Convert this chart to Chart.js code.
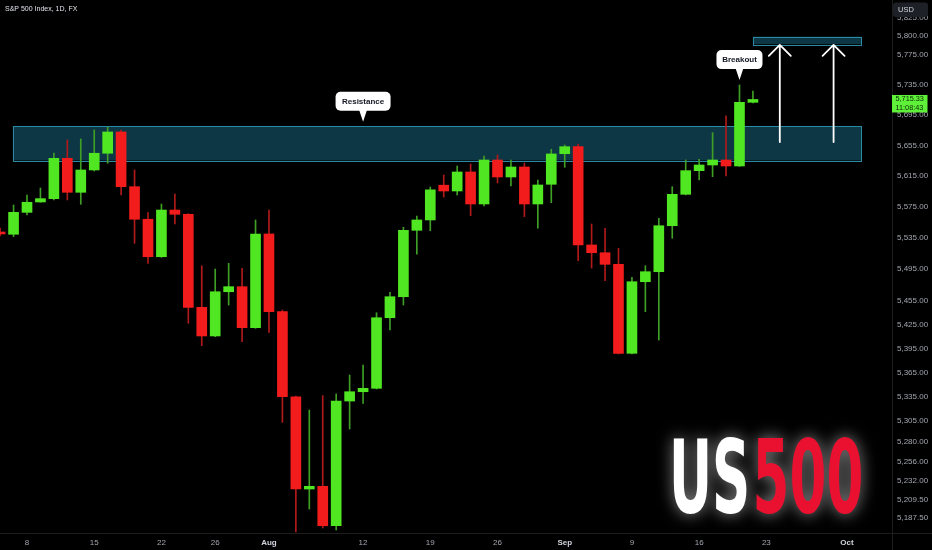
<!DOCTYPE html>
<html>
<head>
<meta charset="utf-8">
<script src="https://cdn.jsdelivr.net/npm/chart.js@4.4.1/dist/chart.umd.min.js"></script>
<style>
  html, body { margin: 0; padding: 0; background: #000; }
  #wrap { width: 932px; height: 550px; }
</style>
</head>
<body>
<div id="wrap"><canvas id="chart" width="932" height="550"></canvas></div>
<script>
// S&P 500 Index, 1D, FX - daily candles (every weekday is a bar on this feed)
const days = [
  '2024-07-04','2024-07-05',
  '2024-07-08','2024-07-09','2024-07-10','2024-07-11','2024-07-12',
  '2024-07-15','2024-07-16','2024-07-17','2024-07-18','2024-07-19',
  '2024-07-22','2024-07-23','2024-07-24','2024-07-25','2024-07-26',
  '2024-07-29','2024-07-30','2024-07-31','2024-08-01','2024-08-02',
  '2024-08-05','2024-08-06','2024-08-07','2024-08-08','2024-08-09',
  '2024-08-12','2024-08-13','2024-08-14','2024-08-15','2024-08-16',
  '2024-08-19','2024-08-20','2024-08-21','2024-08-22','2024-08-23',
  '2024-08-26','2024-08-27','2024-08-28','2024-08-29','2024-08-30',
  '2024-09-02','2024-09-03','2024-09-04','2024-09-05','2024-09-06',
  '2024-09-09','2024-09-10','2024-09-11','2024-09-12','2024-09-13',
  '2024-09-16','2024-09-17','2024-09-18','2024-09-19','2024-09-20'
];
const opens = [
  5542.6, 5539.7,
  5567.9, 5581.3, 5585.6, 5638.0, 5593.8,
  5622.8, 5644.6, 5672.5, 5601.1, 5559.0,
  5511.0, 5570.9, 5565.4, 5446.8, 5410.8,
  5466.5, 5472.9, 5421.2, 5540.1, 5441.3,
  5335.2, 5222.4, 5225.7, 5178.2, 5329.9,
  5341.4, 5345.6, 5433.7, 5460.2, 5544.8,
  5558.1, 5603.0, 5595.5, 5620.2, 5578.7,
  5635.8, 5613.7, 5626.7, 5578.7, 5604.2,
  5644.1, 5653.2, 5526.0, 5516.1, 5501.3,
  5389.1, 5479.2, 5491.9, 5550.7, 5591.2,
  5621.9, 5629.3, 5635.8, 5628.0, 5711.6
];
const highs = [
  5547.7, 5577.4,
  5590.3, 5599.4, 5644.9, 5662.0, 5663.3,
  5675.1, 5678.7, 5675.1, 5622.8, 5567.5,
  5578.7, 5591.6, 5566.2, 5499.5, 5495.3,
  5502.6, 5496.2, 5558.1, 5570.9, 5443.4,
  5336.0, 5318.8, 5336.5, 5338.6, 5362.1,
  5374.5, 5440.0, 5465.8, 5548.7, 5563.2,
  5600.7, 5616.3, 5628.0, 5630.6, 5641.0,
  5642.4, 5635.8, 5631.9, 5609.8, 5649.8,
  5655.4, 5656.7, 5552.9, 5547.4, 5521.8,
  5484.8, 5499.5, 5560.3, 5601.1, 5635.8,
  5636.7, 5671.6, 5693.6, 5734.6, 5726.3
];
const lows = [
  5537.5, 5536.6,
  5564.5, 5580.9, 5583.9, 5583.9, 5578.3,
  5621.5, 5631.5, 5590.3, 5528.1, 5502.6,
  5510.2, 5552.9, 5426.7, 5398.6, 5409.9,
  5449.7, 5403.6, 5420.4, 5415.1, 5303.7,
  5170.7, 5198.3, 5175.5, 5173.1, 5295.5,
  5327.1, 5344.8, 5418.3, 5449.7, 5514.1,
  5544.3, 5587.7, 5590.3, 5563.6, 5576.1,
  5605.9, 5602.0, 5562.3, 5547.4, 5580.4,
  5626.3, 5505.9, 5496.5, 5480.5, 5388.3,
  5388.3, 5441.3, 5405.7, 5534.6, 5590.5,
  5609.8, 5614.1, 5615.0, 5627.3, 5710.8
];
const closes = [
  5540.1, 5567.9,
  5580.9, 5585.6, 5638.0, 5593.8, 5622.8,
  5644.6, 5672.5, 5601.1, 5559.0, 5511.0,
  5570.9, 5565.4, 5446.8, 5410.8, 5466.5,
  5472.9, 5421.2, 5540.1, 5441.3, 5335.2,
  5222.4, 5225.7, 5178.2, 5329.9, 5341.4,
  5345.6, 5433.7, 5460.2, 5544.8, 5558.1,
  5597.0, 5595.5, 5620.2, 5578.7, 5635.8,
  5613.7, 5626.7, 5578.7, 5603.3, 5643.7,
  5653.2, 5526.0, 5516.1, 5501.3, 5389.1,
  5479.2, 5491.9, 5550.7, 5591.2, 5621.9,
  5629.3, 5635.8, 5628.0, 5711.6, 5715.33
];

const priceTicks = [5825, 5800, 5775, 5735, 5695, 5655, 5615, 5575, 5535, 5495,
  5455, 5425, 5395, 5365, 5335, 5305, 5280, 5256, 5232, 5209.5, 5187.5];
const dateTicks = ['2024-07-08','2024-07-15','2024-07-22','2024-07-26','2024-08-01',
  '2024-08-12','2024-08-19','2024-08-26','2024-09-02','2024-09-09','2024-09-16',
  '2024-09-23','2024-10-01'];
const dateTickLabels = ['8','15','22','26','Aug','12','19','26','Sep','9','16','23','Oct'];
const monthLabels = ['Aug', 'Sep', 'Oct'];

const lastPrice = 5715.33;
const countdown = '11:08:43';
const resistanceZone = [5635.2, 5680.4];
const targetZone = [5789.0, 5799.1];
const arrowDays = ['2024-09-24', '2024-09-30'];
const arrowFrom = 5659.2;
const arrowTo = 5788.0;

// weekday index, 2024-07-08 = 0
function dayIndex(s) {
  const [y, m, d] = s.split('-').map(Number);
  const n = Math.round((Date.UTC(y, m - 1, d) - Date.UTC(2024, 6, 8)) / 86400000);
  const w = Math.floor(n / 7);
  return w * 5 + Math.min(n - w * 7, 5);
}

const UP = '#50e622', DOWN = '#f21c1c';
const UP_WICK = '#3f9f25', DOWN_WICK = '#b01a1a';
const xs = days.map(dayIndex);
const isUp = closes.map((c, i) => c >= opens[i]);

function fmt(v) {
  return v.toLocaleString('en-US', { minimumFractionDigits: 2, maximumFractionDigits: 2 });
}

function roundRect(ctx, x, y, w, h, r) {
  ctx.beginPath();
  ctx.moveTo(x + r, y);
  ctx.arcTo(x + w, y, x + w, y + h, r);
  ctx.arcTo(x + w, y + h, x, y + h, r);
  ctx.arcTo(x, y + h, x, y, r);
  ctx.arcTo(x, y, x + w, y, r);
  ctx.closePath();
}

function callout(ctx, tipX, tipY, text, w) {
  const h = 19, gap = 11;
  const bx = tipX - w / 2, by = tipY - gap - h;
  ctx.fillStyle = '#ffffff';
  roundRect(ctx, bx, by, w, h, 5);
  ctx.fill();
  ctx.beginPath();
  ctx.moveTo(tipX - 4, by + h - 1);
  ctx.lineTo(tipX + 4, by + h - 1);
  ctx.lineTo(tipX, tipY);
  ctx.closePath();
  ctx.fill();
  ctx.fillStyle = '#131722';
  ctx.font = 'bold 8px "Liberation Sans", Arial, sans-serif';
  ctx.textAlign = 'center';
  ctx.textBaseline = 'middle';
  ctx.fillText(text, tipX, by + h / 2 + 0.5);
}

const overlay = {
  id: 'overlay',
  beforeDatasetsDraw(chart) {
    const { ctx, scales: { x, y } } = chart;
    ctx.save();
    // resistance zone
    const zx1 = x.getPixelForValue(dayIndex('2024-07-05') - 0.05);
    const zx2 = x.getPixelForValue(dayIndex('2024-10-02') + 0.05);
    let top = y.getPixelForValue(resistanceZone[1]);
    let bot = y.getPixelForValue(resistanceZone[0]);
    ctx.fillStyle = '#0e3746';
    ctx.fillRect(zx1, top, zx2 - zx1, bot - top);
    ctx.strokeStyle = '#2a8aa4';
    ctx.lineWidth = 1;
    ctx.strokeRect(Math.round(zx1) + 0.5, Math.round(top) + 0.5, Math.round(zx2 - zx1), Math.round(bot - top));
    // target zone
    const tx1 = x.getPixelForValue(dayIndex('2024-09-20'));
    top = y.getPixelForValue(targetZone[1]);
    bot = y.getPixelForValue(targetZone[0]);
    ctx.fillRect(tx1, top, zx2 - tx1, bot - top);
    ctx.strokeRect(Math.round(tx1) + 0.5, Math.round(top) + 0.5, Math.round(zx2 - tx1), Math.round(bot - top));
    ctx.restore();
  },
  afterDatasetsDraw(chart) {
    const { ctx, scales: { x, y } } = chart;
    ctx.save();
    // target arrows
    ctx.strokeStyle = '#ffffff';
    ctx.lineWidth = 1.8;
    ctx.lineCap = 'round';
    ctx.lineJoin = 'round';
    arrowDays.forEach(d => {
      const ax = x.getPixelForValue(dayIndex(d));
      const y1 = y.getPixelForValue(arrowFrom), y2 = y.getPixelForValue(arrowTo);
      ctx.beginPath();
      ctx.moveTo(ax, y1);
      ctx.lineTo(ax, y2);
      ctx.moveTo(ax - 11, y2 + 11);
      ctx.lineTo(ax, y2);
      ctx.lineTo(ax + 11, y2 + 11);
      ctx.stroke();
    });
    // callouts
    callout(ctx, x.getPixelForValue(dayIndex('2024-09-19')), y.getPixelForValue(5741), 'Breakout', 46);
    callout(ctx, x.getPixelForValue(dayIndex('2024-08-12')), y.getPixelForValue(5686), 'Resistance', 55);

    // US500 logo
    ctx.font = 'bold 102px "Liberation Sans Narrow", "DejaVu Sans Condensed", "Liberation Sans", sans-serif';
    ctx.textAlign = 'left';
    ctx.textBaseline = 'alphabetic';
    const wUS = ctx.measureText('US').width;
    const w500 = ctx.measureText('500').width;
    const sx = 192 / (wUS + w500);
    ctx.translate(669, 513);
    ctx.scale(sx, 1);
    ctx.shadowColor = 'rgba(255,255,255,0.55)';
    ctx.shadowBlur = 16;
    ctx.fillStyle = '#ffffff';
    ctx.fillText('US', 0, 0);
    ctx.fillStyle = '#ea1030';
    ctx.fillText('500', wUS + 4, 0);
    ctx.restore();
  },
  afterDraw(chart) {
    const { ctx, chartArea, scales: { y } } = chart;
    ctx.save();
    // axis separators
    ctx.strokeStyle = '#1e1e1e';
    ctx.lineWidth = 1;
    ctx.beginPath();
    ctx.moveTo(chartArea.right + 0.5, 0);
    ctx.lineTo(chartArea.right + 0.5, chart.height);
    ctx.moveTo(0, chartArea.bottom + 0.5);
    ctx.lineTo(chart.width, chartArea.bottom + 0.5);
    ctx.stroke();
    // title
    ctx.fillStyle = '#e0e3eb';
    ctx.font = '7px "Liberation Sans", Arial, sans-serif';
    ctx.textAlign = 'left';
    ctx.textBaseline = 'middle';
    ctx.fillText('S&P 500 Index, 1D, FX', 5, 9.5);
    // currency box
    ctx.fillStyle = '#1d2027';
    roundRect(ctx, 893, 2.5, 35, 14.5, 3);
    ctx.fill();
    ctx.fillStyle = '#d1d4dc';
    ctx.font = '7.5px "Liberation Sans", Arial, sans-serif';
    ctx.fillText('USD', 898, 10);
    // last price label
    const py = y.getPixelForValue(lastPrice);
    ctx.fillStyle = '#5ff03a';
    ctx.fillRect(892, py - 4.5, 35.5, 17.5);
    ctx.fillStyle = '#0c2a05';
    ctx.font = '7.3px "Liberation Sans", Arial, sans-serif';
    ctx.fillText(fmt(lastPrice), 895.5, py);
    ctx.fillText(countdown, 895.5, py + 8.3);
    ctx.restore();
  }
};

new Chart(document.getElementById('chart'), {
  type: 'bar',
  data: {
    datasets: [
      {
        label: 'wick',
        data: xs.map((v, i) => ({ x: v, y: [lows[i], highs[i]] })),
        backgroundColor: isUp.map(u => u ? UP_WICK : DOWN_WICK),
        barThickness: 1,
        grouped: false,
        order: 2
      },
      {
        label: 'body',
        data: xs.map((v, i) => ({ x: v, y: [opens[i], closes[i]] })),
        backgroundColor: isUp.map(u => u ? UP : DOWN),
        barThickness: 10,
        minBarLength: 2,
        grouped: false,
        order: 1
      }
    ]
  },
  options: {
    responsive: false,
    animation: false,
    layout: { padding: 0 },
    plugins: { legend: { display: false }, tooltip: { enabled: false } },
    scales: {
      x: {
        type: 'linear',
        min: -2.0085,
        max: 64.346,
        offset: false,
        grid: { display: false, drawTicks: false },
        border: { display: false },
        afterBuildTicks: s => { s.ticks = dateTicks.map(d => ({ value: dayIndex(d) })); },
        afterFit: s => { s.height = 17; s.paddingLeft = 0; s.paddingRight = 0; },
        ticks: {
          autoSkip: false,
          maxRotation: 0,
          padding: 5,
          color: c => monthLabels.includes(dateTickLabels[c.index]) ? '#d1d4dc' : '#a3a6af',
          font: c => ({
            family: '"Liberation Sans", Arial, sans-serif',
            size: 8,
            weight: monthLabels.includes(dateTickLabels[c.index]) ? 'bold' : 'normal'
          }),
          callback: (v, i) => dateTickLabels[i]
        }
      },
      y: {
        type: 'logarithmic',
        position: 'right',
        min: 5169.5,
        max: 5848.5,
        grid: { display: false, drawTicks: false },
        border: { display: false },
        afterBuildTicks: s => { s.ticks = priceTicks.map(v => ({ value: v })); },
        afterFit: s => { s.width = 40; s.paddingTop = 0; s.paddingBottom = 0; },
        ticks: {
          autoSkip: false,
          padding: 5,
          color: '#a3a6af',
          font: { family: '"Liberation Sans", Arial, sans-serif', size: 8 },
          callback: v => fmt(v)
        }
      }
    }
  },
  plugins: [overlay]
});
</script>
</body>
</html>
